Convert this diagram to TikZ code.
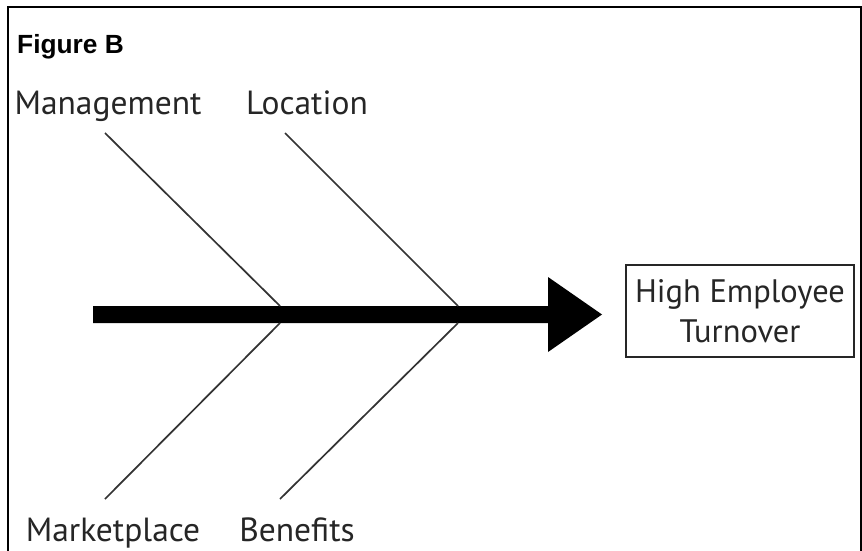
\documentclass[tikz,border=0pt]{standalone}
\usepackage{fontspec}
\setmainfont{Liberation Sans}
\newfontfamily\labelfont{PT Sans}
\begin{document}
\begin{tikzpicture}[x=1pt,y=-1pt,
  bone/.style={draw=black!80,line width=1.7pt},
  lbl/.style={inner sep=0pt,anchor=base,font=\labelfont\fontsize{33.5}{36}\selectfont,text=black!85},
  effect/.style={draw=black!85,line width=1.1pt,minimum width=228pt,minimum height=92pt,align=center,inner sep=0pt,font=\labelfont\fontsize{32.5}{40}\selectfont,text=black!85}]
\useasboundingbox (0,0) rectangle (862,551);
\fill[white] (0,0) rectangle (862,551);
% frame
\draw[line width=2.2pt] (8,552) -- (8,7) -- (860.9,7) -- (860.9,552);
% title
\node[inner sep=0pt,anchor=base west,font=\bfseries\fontsize{26.3}{28}\selectfont] (title) at (17,54) {Figure B};
% spine arrow
\coordinate (s0) at (93,314.5);
\coordinate (j1) at (280,314.5);
\coordinate (j2) at (458,314.5);
\coordinate (tip) at (602,314.5);
\fill[black] (93,306) -- (548,306) -- (548,277) -- (tip) -- (548,352) -- (548,323) -- (93,323) -- cycle;
% effect box
\node[effect] (eff) at (740,311) {High Employee\\Turnover};
% bone ends
\coordinate (a1) at (105,133);
\coordinate (a2) at (285,133);
\coordinate (b1) at (105,499);
\coordinate (b2) at (280,499);
\draw[bone] (a1) -- (280,306);
\draw[bone] (a2) -- (458,306);
\draw[bone] (b1) -- (280,323);
\draw[bone] (b2) -- (458,323);
% labels
\node[lbl] (l1) at (108,114) {Management};
\node[lbl] (l2) at (307,114) {Location};
\node[lbl] (l3) at (113,541) {Marketplace};
\node[lbl] (l4) at (297,541) {Benefits};
\end{tikzpicture}
\end{document}
